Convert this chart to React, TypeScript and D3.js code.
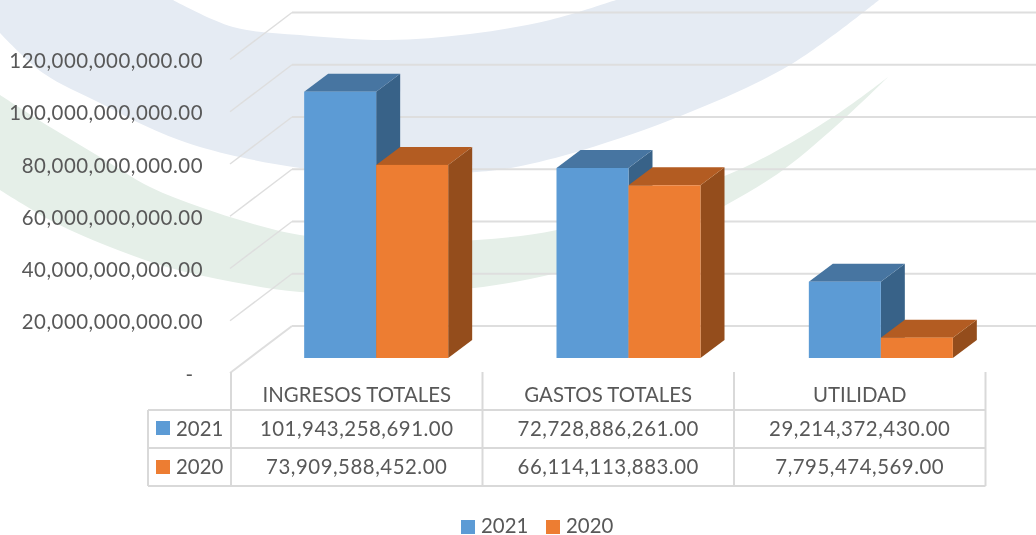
import React from "react";
import * as d3 from "d3";

const categories = ["INGRESOS TOTALES", "GASTOS TOTALES", "UTILIDAD"];
const seriesNames = ["2021", "2020"];
const values2021 = [101943258691, 72728886261, 29214372430];
const values2020 = [73909588452, 66114113883, 7795474569];
const labels2021 = ["101,943,258,691.00", "72,728,886,261.00", "29,214,372,430.00"];
const labels2020 = ["73,909,588,452.00", "66,114,113,883.00", "7,795,474,569.00"];
const yTicks = [0, 20e9, 40e9, 60e9, 80e9, 100e9, 120e9];
const yTickLabels = ["-", "20,000,000,000.00", "40,000,000,000.00", "60,000,000,000.00", "80,000,000,000.00", "100,000,000,000.00", "120,000,000,000.00"];

const W = 1036, H = 535;
const FONT = "Lato, 'Open Sans', sans-serif";
const TEXT = "#595959";
const GRID = "#dedede";
const TABLE = "#d9d9d9";
const C = [
  { face: "#5b9bd5", top: "#4675a1", side: "#386288" },
  { face: "#ed7d31", top: "#b35c20", side: "#944d1b" },
];
const depthX = 24, depthY = 18;
const wallX = 62, wallY = 47;
const backZero = 326;
const barBase = 358;
const fs = 20.4;
const numSpacing = 0.52;

const y = d3.scaleLinear().domain([0, 120e9]).range([0, 313.5]);
const xBand = d3.scaleBand<string>().domain(categories).range([250, 1007]);
const barW = 72;
const xSeries = d3.scaleBand<string>().domain(seriesNames).range([0, barW * 2]);
const colX = d3.scaleBand<string>().domain(categories).range([231, 985.5]);

const curve = d3.line<[number, number]>().curve(d3.curveCatmullRom.alpha(0.5));
const tail = (pts: [number, number][]) => curve(pts)!.replace(/^M[^C]*/, "");
const blueTop: [number, number][] = [[173, 0], [233, 27], [300, 35], [387, 40], [470, 34], [550, 20], [616, 0]];
const blueBottom: [number, number][] = [[879, 0], [790, 65], [683, 115], [583, 150], [516, 167], [477, 172], [400, 175], [300, 168], [200, 147], [150, 128], [100, 103], [43, 73], [0, 33]];
const greenTop: [number, number][] = [[0, 95], [50, 127], [100, 157], [150, 187], [200, 207], [250, 223], [300, 235], [400, 241], [477, 240], [557, 230], [640, 205], [743, 168], [836, 115], [888, 77]];
const greenBottom: [number, number][] = [[888, 77], [846, 117], [783, 170], [726, 205], [640, 248], [557, 273], [483, 287], [400, 293], [300, 292], [233, 282], [167, 267], [100, 243], [50, 220], [0, 190]];

function Bar({ x, w, h, c }: { x: number; w: number; h: number; c: (typeof C)[0] }) {
  const t = barBase - h;
  const r = x + w;
  const pts = (a: number[][]) => a.map((p) => p.join(",")).join(" ");
  return (
    <g>
      <polygon fill={c.side} points={pts([[r, t], [r + depthX, t - depthY], [r + depthX, barBase - depthY], [r, barBase]])} />
      <polygon fill={c.top} points={pts([[x, t], [x + depthX, t - depthY], [r + depthX, t - depthY], [r, t]])} />
      <rect x={x} y={t} width={w} height={h} fill={c.face} />
    </g>
  );
}

export default function App() {
  const rows = [
    { name: seriesNames[0], labels: labels2021, base: 436, color: C[0].face, key: 421 },
    { name: seriesNames[1], labels: labels2020, base: 474, color: C[1].face, key: 460 },
  ];
  const cols = [231, ...categories.map((c) => colX(c)! + colX.bandwidth())];
  return (
    <svg width={W} height={H} viewBox={`0 0 ${W} ${H}`} style={{ position: "absolute", left: 0, top: 0, display: "block", background: "#fff" }} fontFamily={FONT}>
      <defs>
        <filter id="soft" x="0" y="0" width="100%" height="100%">
          <feGaussianBlur stdDeviation="0.5" />
        </filter>
      </defs>
      <g filter="url(#soft)">
        <path d={`M0,190 L0,95 ${tail(greenTop)} ${tail(greenBottom)} Z`} fill="#e5efe8" />
        <path d={`M0,0 L173,0 ${tail(blueTop)} L879,0 ${tail(blueBottom)} Z`} fill="#e5ebf3" />

        {yTicks.map((t) => {
          const gy = backZero - y(t);
          return (
            <g key={t} fill="none">
              <line x1={292} x2={W} y1={gy} y2={gy} stroke={GRID} strokeWidth={2.2} />
              <line x1={292} x2={292 - wallX} y1={gy} y2={gy + wallY} stroke={GRID} strokeWidth={t === 0 ? 2 : 1.5} />
            </g>
          );
        })}

        {yTicks.map((t, i) => (
          <text key={t} x={t === 0 ? 193 : 203} y={backZero - y(t) + wallY + 8.5} textAnchor="end" fontSize={fs} fill={TEXT} letterSpacing={t === 0 ? 0 : numSpacing}>
            {yTickLabels[i]}
          </text>
        ))}

        {categories.map((c, i) => {
          const x0 = xBand(c)! + xBand.bandwidth() / 2 - barW;
          return (
            <g key={c}>
              <Bar x={x0 + xSeries("2021")!} w={xSeries.bandwidth()} h={y(values2021[i])} c={C[0]} />
              <Bar x={x0 + xSeries("2020")!} w={xSeries.bandwidth()} h={y(values2020[i])} c={C[1]} />
            </g>
          );
        })}

        <g stroke={TABLE} strokeWidth={2}>
          {[410, 448, 486].map((ly) => (
            <line key={ly} x1={148} x2={cols[3]} y1={ly} y2={ly} />
          ))}
          <line x1={148} x2={148} y1={410} y2={486} />
          {cols.map((cx) => (
            <line key={cx} x1={cx} x2={cx} y1={372} y2={486} />
          ))}
        </g>

        {categories.map((c) => (
          <text key={c} x={colX(c)! + colX.bandwidth() / 2} y={402} textAnchor="middle" fontSize={fs} fill={TEXT}>
            {c}
          </text>
        ))}
        {rows.map((r) => (
          <g key={r.name}>
            <rect x={156} y={r.key} width={14} height={14} fill={r.color} />
            <text x={176} y={r.base} fontSize={fs} fill={TEXT}>{r.name}</text>
            {r.labels.map((l, i) => (
              <text key={l} x={colX(categories[i])! + colX.bandwidth() / 2} y={r.base} textAnchor="middle" fontSize={fs} fill={TEXT} letterSpacing={numSpacing}>
                {l}
              </text>
            ))}
          </g>
        ))}

        {seriesNames.map((s, i) => (
          <g key={s}>
            <rect x={461 + i * 85} y={520} width={14} height={14} fill={C[i].face} />
            <text x={481 + i * 85} y={533} fontSize={fs} fill={TEXT}>{s}</text>
          </g>
        ))}
      </g>
    </svg>
  );
}
